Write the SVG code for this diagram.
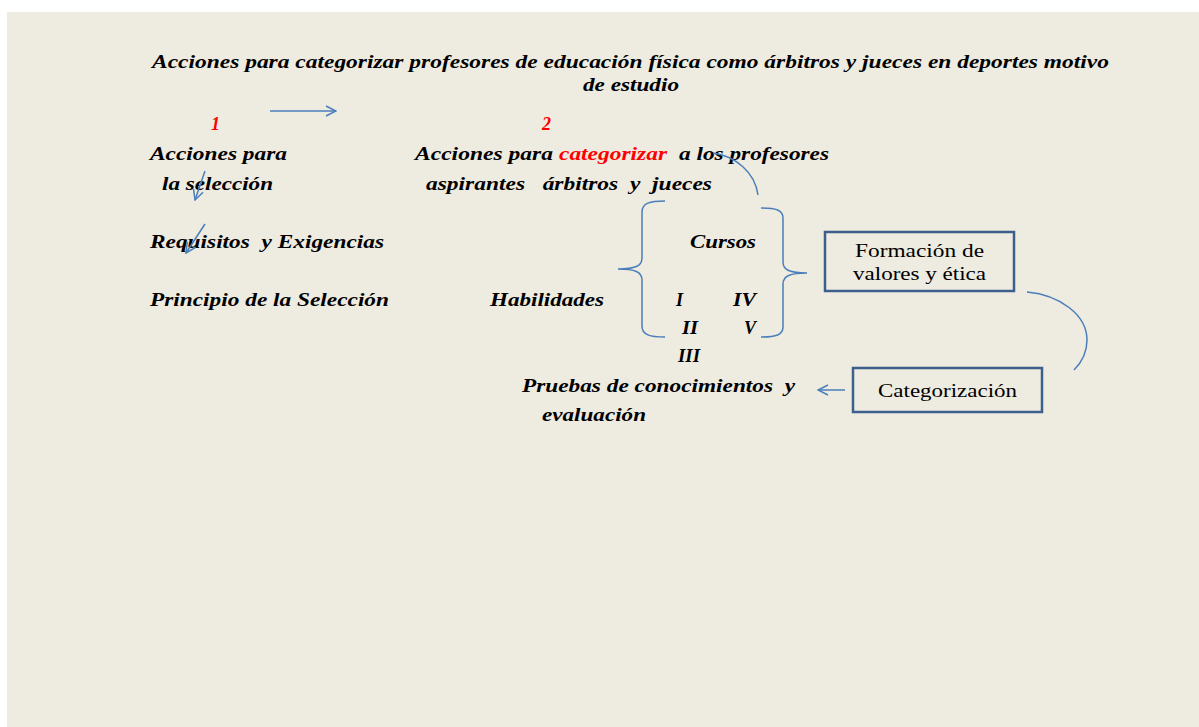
<svg xmlns="http://www.w3.org/2000/svg" width="1199" height="727" viewBox="0 0 1199 727">
<defs>
<style>
text{white-space:pre}
.t{font-family:"Liberation Serif","Times New Roman",serif;font-weight:bold;font-style:italic;font-size:18px;fill:#000}
.h{font-family:"Liberation Serif","Times New Roman",serif;font-weight:bold;font-style:italic;font-size:19px;fill:#000}
.r{fill:#FF0000}
.b{font-family:"Liberation Serif","Times New Roman",serif;font-size:18px;fill:#000}
.ln{fill:none;stroke:#4A7EBB;stroke-width:1.5}
.box{fill:none;stroke:#3C5F8C;stroke-width:2.5}
</style>
<marker id="ah" viewBox="0 0 12 12" refX="11" refY="6" markerWidth="12" markerHeight="12" markerUnits="userSpaceOnUse" orient="auto">
<path d="M1,1 L11,6 L1,11" fill="none" stroke="#4A7EBB" stroke-width="1.5"/>
</marker>
</defs>
<rect x="7" y="12" width="1192" height="715" fill="#EEEBE0"/>

<g id="title">
<text class="h" x="152" y="68" textLength="957" lengthAdjust="spacingAndGlyphs">Acciones para categorizar profesores de educación física como árbitros y jueces en deportes motivo</text>
<text class="h" x="583" y="91" textLength="96" lengthAdjust="spacingAndGlyphs">de estudio</text>
</g>

<g id="n1">
<text class="t r" x="211" y="130">1</text>
<text class="t" x="150" y="160" textLength="137" lengthAdjust="spacingAndGlyphs">Acciones para</text>
<text class="t" x="162" y="190" textLength="111" lengthAdjust="spacingAndGlyphs">la selección</text>
</g>

<g id="n2">
<text class="t r" x="542" y="130">2</text>
<text class="t" x="415" y="160" textLength="138" lengthAdjust="spacingAndGlyphs">Acciones para</text>
<text class="t r" x="559" y="160" textLength="108" lengthAdjust="spacingAndGlyphs">categorizar</text>
<text class="t" x="679" y="160" textLength="150" lengthAdjust="spacingAndGlyphs">a los profesores</text>
<text class="t" x="426" y="190" textLength="286" lengthAdjust="spacingAndGlyphs">aspirantes   árbitros  y  jueces</text>
</g>

<g id="requisitos">
<text class="t" x="150" y="248" textLength="234" lengthAdjust="spacingAndGlyphs">Requisitos  y Exigencias</text>
</g>

<g id="principio">
<text class="t" x="150" y="306" textLength="239" lengthAdjust="spacingAndGlyphs">Principio de la Selección</text>
</g>

<g id="habilidades">
<text class="t" x="490" y="306" textLength="114" lengthAdjust="spacingAndGlyphs">Habilidades</text>
</g>

<g id="cursos">
<text class="t" x="690" y="248" textLength="66" lengthAdjust="spacingAndGlyphs">Cursos</text>
<text class="t" x="676" y="306">I</text>
<text class="t" x="733" y="306" textLength="23" lengthAdjust="spacingAndGlyphs">IV</text>
<text class="t" x="682" y="334" textLength="16" lengthAdjust="spacingAndGlyphs">II</text>
<text class="t" x="744" y="334">V</text>
<text class="t" x="678" y="362" textLength="22" lengthAdjust="spacingAndGlyphs">III</text>
</g>

<g id="formacion">
<rect class="box" x="825" y="232" width="189" height="59"/>
<text class="b" x="855" y="257" textLength="129" lengthAdjust="spacingAndGlyphs">Formación de</text>
<text class="b" x="853" y="280" textLength="133" lengthAdjust="spacingAndGlyphs">valores y ética</text>
</g>

<g id="categorizacion">
<rect class="box" x="853" y="368" width="189" height="44"/>
<text class="b" x="878" y="397" textLength="139" lengthAdjust="spacingAndGlyphs">Categorización</text>
</g>

<g id="pruebas">
<text class="t" x="522" y="392" textLength="273" lengthAdjust="spacingAndGlyphs">Pruebas de conocimientos  y</text>
<text class="t" x="542" y="421" textLength="104" lengthAdjust="spacingAndGlyphs">evaluación</text>
</g>

<g id="connectors">
<line class="ln" x1="270" y1="111" x2="336" y2="111" marker-end="url(#ah)"/>
<line class="ln" x1="205" y1="171" x2="195" y2="200" marker-end="url(#ah)"/>
<line class="ln" x1="205" y1="224" x2="186" y2="253" marker-end="url(#ah)"/>
<path class="ln" d="M713,153 C735,156 755,172 758,195"/>
<path class="ln" d="M665,201 C650,201 642,203 642,212 L642,258 C642,266 635,269 618,269 C635,269 642,272 642,280 L642,326 C642,335 650,337 665,337"/>
<path class="ln" d="M761,208 C776,208 783,210 783,218 L783,262 C783,270 790,273 807,273 C790,273 783,276 783,284 L783,327 C783,335 776,337 761,337"/>
<path class="ln" d="M1027,292 C1060,295 1087,315 1087,340 C1087,352 1082,362 1074,370"/>
<line class="ln" x1="845" y1="390" x2="818" y2="390" marker-end="url(#ah)"/>
</g>
</svg>
